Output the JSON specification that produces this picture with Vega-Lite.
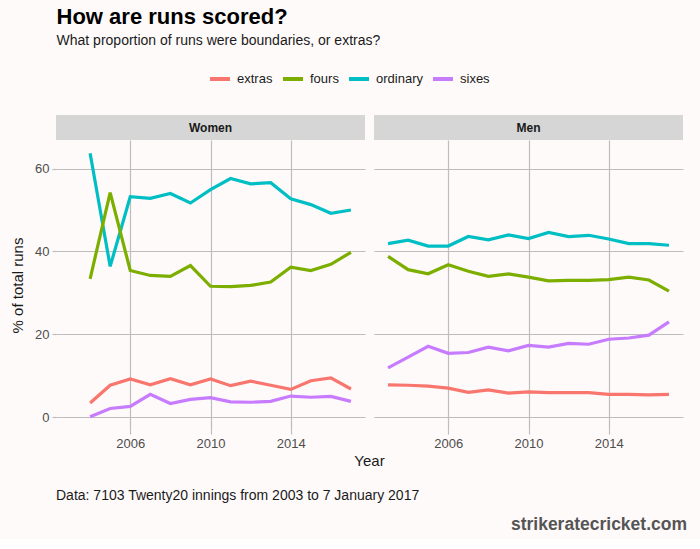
{
  "$schema": "https://vega.github.io/schema/vega-lite/v6.json",
  "background": "#fffafa",
  "padding": {"left": 10, "top": 6, "right": 16, "bottom": 5},
  "title": {
    "text": "How are runs scored?",
    "subtitle": "What proportion of runs were boundaries, or extras?",
    "anchor": "start",
    "frame": "bounds",
    "dx": 46,
    "fontSize": 22,
    "fontWeight": "bold",
    "color": "#000000",
    "subtitleFontSize": 14,
    "subtitleColor": "#1a1a1a",
    "subtitlePadding": 5,
    "offset": 18
  },
  "datasets": {
    "runs": [
      {"gender": "Women", "type": "ordinary", "year": 2004, "pct": 63.7},
      {"gender": "Women", "type": "ordinary", "year": 2005, "pct": 36.4},
      {"gender": "Women", "type": "ordinary", "year": 2006, "pct": 53.2},
      {"gender": "Women", "type": "ordinary", "year": 2007, "pct": 52.8},
      {"gender": "Women", "type": "ordinary", "year": 2008, "pct": 54.0},
      {"gender": "Women", "type": "ordinary", "year": 2009, "pct": 51.7},
      {"gender": "Women", "type": "ordinary", "year": 2010, "pct": 54.9},
      {"gender": "Women", "type": "ordinary", "year": 2011, "pct": 57.6},
      {"gender": "Women", "type": "ordinary", "year": 2012, "pct": 56.3},
      {"gender": "Women", "type": "ordinary", "year": 2013, "pct": 56.6},
      {"gender": "Women", "type": "ordinary", "year": 2014, "pct": 52.7},
      {"gender": "Women", "type": "ordinary", "year": 2015, "pct": 51.3},
      {"gender": "Women", "type": "ordinary", "year": 2016, "pct": 49.2},
      {"gender": "Women", "type": "ordinary", "year": 2017, "pct": 50.0},
      {"gender": "Women", "type": "fours", "year": 2004, "pct": 33.4},
      {"gender": "Women", "type": "fours", "year": 2005, "pct": 54.2},
      {"gender": "Women", "type": "fours", "year": 2006, "pct": 35.4},
      {"gender": "Women", "type": "fours", "year": 2007, "pct": 34.2},
      {"gender": "Women", "type": "fours", "year": 2008, "pct": 34.0},
      {"gender": "Women", "type": "fours", "year": 2009, "pct": 36.6},
      {"gender": "Women", "type": "fours", "year": 2010, "pct": 31.6},
      {"gender": "Women", "type": "fours", "year": 2011, "pct": 31.5},
      {"gender": "Women", "type": "fours", "year": 2012, "pct": 31.8},
      {"gender": "Women", "type": "fours", "year": 2013, "pct": 32.6},
      {"gender": "Women", "type": "fours", "year": 2014, "pct": 36.2},
      {"gender": "Women", "type": "fours", "year": 2015, "pct": 35.4},
      {"gender": "Women", "type": "fours", "year": 2016, "pct": 36.9},
      {"gender": "Women", "type": "fours", "year": 2017, "pct": 39.8},
      {"gender": "Women", "type": "extras", "year": 2004, "pct": 3.4},
      {"gender": "Women", "type": "extras", "year": 2005, "pct": 7.7},
      {"gender": "Women", "type": "extras", "year": 2006, "pct": 9.2},
      {"gender": "Women", "type": "extras", "year": 2007, "pct": 7.8},
      {"gender": "Women", "type": "extras", "year": 2008, "pct": 9.3},
      {"gender": "Women", "type": "extras", "year": 2009, "pct": 7.8},
      {"gender": "Women", "type": "extras", "year": 2010, "pct": 9.2},
      {"gender": "Women", "type": "extras", "year": 2011, "pct": 7.6},
      {"gender": "Women", "type": "extras", "year": 2012, "pct": 8.7},
      {"gender": "Women", "type": "extras", "year": 2013, "pct": 7.7},
      {"gender": "Women", "type": "extras", "year": 2014, "pct": 6.7},
      {"gender": "Women", "type": "extras", "year": 2015, "pct": 8.8},
      {"gender": "Women", "type": "extras", "year": 2016, "pct": 9.5},
      {"gender": "Women", "type": "extras", "year": 2017, "pct": 6.8},
      {"gender": "Women", "type": "sixes", "year": 2004, "pct": 0.1},
      {"gender": "Women", "type": "sixes", "year": 2005, "pct": 2.1},
      {"gender": "Women", "type": "sixes", "year": 2006, "pct": 2.6},
      {"gender": "Women", "type": "sixes", "year": 2007, "pct": 5.5},
      {"gender": "Women", "type": "sixes", "year": 2008, "pct": 3.3},
      {"gender": "Women", "type": "sixes", "year": 2009, "pct": 4.3},
      {"gender": "Women", "type": "sixes", "year": 2010, "pct": 4.7},
      {"gender": "Women", "type": "sixes", "year": 2011, "pct": 3.7},
      {"gender": "Women", "type": "sixes", "year": 2012, "pct": 3.6},
      {"gender": "Women", "type": "sixes", "year": 2013, "pct": 3.8},
      {"gender": "Women", "type": "sixes", "year": 2014, "pct": 5.1},
      {"gender": "Women", "type": "sixes", "year": 2015, "pct": 4.8},
      {"gender": "Women", "type": "sixes", "year": 2016, "pct": 5.0},
      {"gender": "Women", "type": "sixes", "year": 2017, "pct": 3.8},
      {"gender": "Men", "type": "ordinary", "year": 2003, "pct": 41.9},
      {"gender": "Men", "type": "ordinary", "year": 2004, "pct": 42.7},
      {"gender": "Men", "type": "ordinary", "year": 2005, "pct": 41.3},
      {"gender": "Men", "type": "ordinary", "year": 2006, "pct": 41.3},
      {"gender": "Men", "type": "ordinary", "year": 2007, "pct": 43.6},
      {"gender": "Men", "type": "ordinary", "year": 2008, "pct": 42.8},
      {"gender": "Men", "type": "ordinary", "year": 2009, "pct": 44.0},
      {"gender": "Men", "type": "ordinary", "year": 2010, "pct": 43.1},
      {"gender": "Men", "type": "ordinary", "year": 2011, "pct": 44.6},
      {"gender": "Men", "type": "ordinary", "year": 2012, "pct": 43.6},
      {"gender": "Men", "type": "ordinary", "year": 2013, "pct": 43.9},
      {"gender": "Men", "type": "ordinary", "year": 2014, "pct": 43.0},
      {"gender": "Men", "type": "ordinary", "year": 2015, "pct": 41.9},
      {"gender": "Men", "type": "ordinary", "year": 2016, "pct": 41.9},
      {"gender": "Men", "type": "ordinary", "year": 2017, "pct": 41.5},
      {"gender": "Men", "type": "fours", "year": 2003, "pct": 38.8},
      {"gender": "Men", "type": "fours", "year": 2004, "pct": 35.6},
      {"gender": "Men", "type": "fours", "year": 2005, "pct": 34.6},
      {"gender": "Men", "type": "fours", "year": 2006, "pct": 36.8},
      {"gender": "Men", "type": "fours", "year": 2007, "pct": 35.2},
      {"gender": "Men", "type": "fours", "year": 2008, "pct": 34.0},
      {"gender": "Men", "type": "fours", "year": 2009, "pct": 34.6},
      {"gender": "Men", "type": "fours", "year": 2010, "pct": 33.8},
      {"gender": "Men", "type": "fours", "year": 2011, "pct": 32.9},
      {"gender": "Men", "type": "fours", "year": 2012, "pct": 33.0},
      {"gender": "Men", "type": "fours", "year": 2013, "pct": 33.0},
      {"gender": "Men", "type": "fours", "year": 2014, "pct": 33.2},
      {"gender": "Men", "type": "fours", "year": 2015, "pct": 33.8},
      {"gender": "Men", "type": "fours", "year": 2016, "pct": 33.1},
      {"gender": "Men", "type": "fours", "year": 2017, "pct": 30.4},
      {"gender": "Men", "type": "sixes", "year": 2003, "pct": 11.9},
      {"gender": "Men", "type": "sixes", "year": 2004, "pct": 14.5},
      {"gender": "Men", "type": "sixes", "year": 2005, "pct": 17.1},
      {"gender": "Men", "type": "sixes", "year": 2006, "pct": 15.4},
      {"gender": "Men", "type": "sixes", "year": 2007, "pct": 15.6},
      {"gender": "Men", "type": "sixes", "year": 2008, "pct": 16.9},
      {"gender": "Men", "type": "sixes", "year": 2009, "pct": 16.0},
      {"gender": "Men", "type": "sixes", "year": 2010, "pct": 17.3},
      {"gender": "Men", "type": "sixes", "year": 2011, "pct": 16.9},
      {"gender": "Men", "type": "sixes", "year": 2012, "pct": 17.8},
      {"gender": "Men", "type": "sixes", "year": 2013, "pct": 17.6},
      {"gender": "Men", "type": "sixes", "year": 2014, "pct": 18.8},
      {"gender": "Men", "type": "sixes", "year": 2015, "pct": 19.1},
      {"gender": "Men", "type": "sixes", "year": 2016, "pct": 19.8},
      {"gender": "Men", "type": "sixes", "year": 2017, "pct": 23.0},
      {"gender": "Men", "type": "extras", "year": 2003, "pct": 7.8},
      {"gender": "Men", "type": "extras", "year": 2004, "pct": 7.7},
      {"gender": "Men", "type": "extras", "year": 2005, "pct": 7.5},
      {"gender": "Men", "type": "extras", "year": 2006, "pct": 7.0},
      {"gender": "Men", "type": "extras", "year": 2007, "pct": 6.0},
      {"gender": "Men", "type": "extras", "year": 2008, "pct": 6.6},
      {"gender": "Men", "type": "extras", "year": 2009, "pct": 5.8},
      {"gender": "Men", "type": "extras", "year": 2010, "pct": 6.1},
      {"gender": "Men", "type": "extras", "year": 2011, "pct": 5.9},
      {"gender": "Men", "type": "extras", "year": 2012, "pct": 5.9},
      {"gender": "Men", "type": "extras", "year": 2013, "pct": 5.9},
      {"gender": "Men", "type": "extras", "year": 2014, "pct": 5.5},
      {"gender": "Men", "type": "extras", "year": 2015, "pct": 5.5},
      {"gender": "Men", "type": "extras", "year": 2016, "pct": 5.4},
      {"gender": "Men", "type": "extras", "year": 2017, "pct": 5.5}
    ]
  },
  "vconcat": [
    {
      "hconcat": [
        {
          "spacing": 0,
          "vconcat": [
            {
              "width": 309, "height": 25,
              "data": {"values": [{"panel": "Women"}]},
              "view": {"fill": "#d6d6d6", "stroke": null},
              "mark": {"type": "text", "fontWeight": "bold", "fontSize": 12, "color": "#1a1a1a"},
              "encoding": {"text": {"field": "panel", "type": "nominal"}}
            },
            {
              "width": 309, "height": 290,
              "data": {"name": "runs"},
              "transform": [{"filter": "datum.gender === 'Women'"}],
              "mark": {"type": "line", "strokeWidth": 3.2, "clip": true},
              "encoding": {
                "x": {"field": "year", "type": "quantitative",
                      "scale": {"domain": [2002.3, 2017.7], "nice": false, "zero": false},
                      "axis": {"values": [2006, 2010, 2014], "format": "d", "title": null}},
                "y": {"field": "pct", "type": "quantitative",
                      "scale": {"domain": [-3.1, 66.9], "nice": false, "zero": false},
                      "axis": {"values": [0, 20, 40, 60], "title": "% of total runs", "titlePadding": 9}},
                "color": {"field": "type", "type": "nominal",
                          "scale": {"domain": ["extras", "fours", "ordinary", "sixes"], "range": ["#F8766D", "#7CAE00", "#00BFC4", "#C77CFF"]},
                          "legend": {"title": null}}
              }
            }
          ]
        },
        {
          "spacing": 0,
          "vconcat": [
            {
              "width": 309, "height": 25,
              "data": {"values": [{"panel": "Men"}]},
              "view": {"fill": "#d6d6d6", "stroke": null},
              "mark": {"type": "text", "fontWeight": "bold", "fontSize": 12, "color": "#1a1a1a"},
              "encoding": {"text": {"field": "panel", "type": "nominal"}}
            },
            {
              "width": 309, "height": 290,
              "data": {"name": "runs"},
              "transform": [{"filter": "datum.gender === 'Men'"}],
              "mark": {"type": "line", "strokeWidth": 3.2, "clip": true},
              "encoding": {
                "x": {"field": "year", "type": "quantitative",
                      "scale": {"domain": [2002.3, 2017.7], "nice": false, "zero": false},
                      "axis": {"values": [2006, 2010, 2014], "format": "d", "title": null}},
                "y": {"field": "pct", "type": "quantitative",
                      "scale": {"domain": [-3.1, 66.9], "nice": false, "zero": false},
                      "axis": {"values": [0, 20, 40, 60], "title": null, "labels": false, "ticks": false}},
                "color": {"field": "type", "type": "nominal",
                          "scale": {"domain": ["extras", "fours", "ordinary", "sixes"], "range": ["#F8766D", "#7CAE00", "#00BFC4", "#C77CFF"]},
                          "legend": {"title": null}}
              }
            }
          ]
        }
      ],
      "spacing": 9
    },
    {
      "width": 627, "height": 16,
      "data": {"values": [{"label": "Year"}]},
      "mark": {"type": "text", "fontSize": 15, "color": "#1a1a1a"},
      "encoding": {"text": {"field": "label", "type": "nominal"}},
      "title": {"text": "Data: 7103 Twenty20 innings from 2003 to 7 January 2017", "orient": "bottom", "anchor": "start", "fontSize": 14, "fontWeight": "normal", "color": "#1a1a1a", "offset": 20}
    },
    {
      "width": 627, "height": 1,
      "data": {"values": []},
      "mark": {"type": "text"},
      "encoding": {"text": {"field": "label", "type": "nominal"}},
      "title": {"text": "strikeratecricket.com", "orient": "bottom", "anchor": "end", "dx": 4, "fontSize": 17.5, "fontWeight": "bold", "color": "#555555", "offset": 9}
    }
  ],
  "spacing": 3,
  "resolve": {"scale": {"color": "shared"}, "legend": {"color": "shared"}},
  "config": {
    "font": "Liberation Sans",
    "view": {"stroke": null},
    "axis": {
      "gridColor": "#bdbdbd", "gridWidth": 1.2, "domain": false,
      "tickColor": "#bdbdbd", "tickSize": 4, "tickWidth": 1.2,
      "labelColor": "#4d4d4d", "labelFontSize": 13, "labelPadding": 3,
      "titleFontSize": 15, "titleColor": "#1a1a1a", "titleFontWeight": "normal"
    },
    "legend": {
      "orient": "top", "direction": "horizontal",
      "symbolType": "stroke", "symbolStrokeWidth": 4, "symbolSize": 400,
      "labelFontSize": 13, "labelColor": "#1a1a1a", "labelOffset": 5, "columnPadding": 2,
      "offset": 28,
      "layout": {"top": {"anchor": "middle"}}
    }
  }
}
